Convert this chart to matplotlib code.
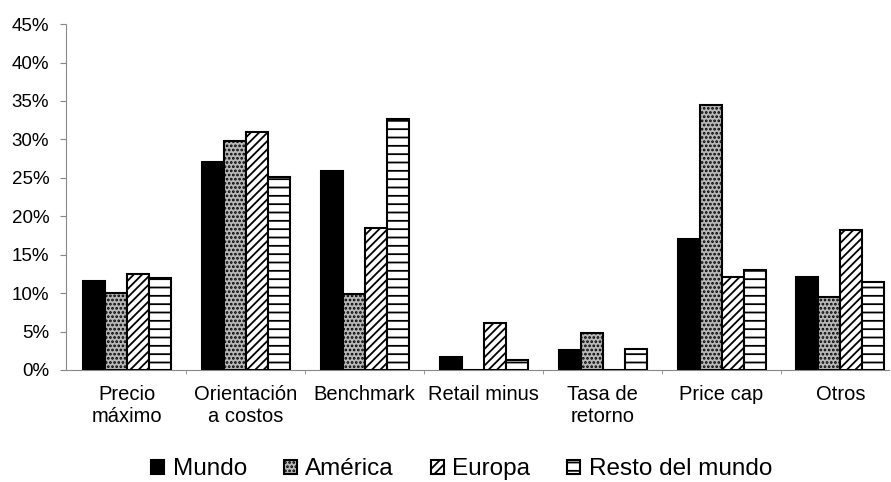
import numpy as np
import matplotlib
matplotlib.use("Agg")
import matplotlib.pyplot as plt
from matplotlib.ticker import PercentFormatter

plt.rcParams['font.family'] = ['Liberation Sans', 'DejaVu Sans']
plt.rcParams['hatch.linewidth'] = 1.3

categories = ["Precio\nmáximo", "Orientación\na costos", "Benchmark", "Retail minus",
              "Tasa de\nretorno", "Price cap", "Otros"]
series = ["Mundo", "América", "Europa", "Resto del mundo"]
mundo = [11.6, 27.0, 25.9, 1.7, 2.6, 17.0, 12.1]
america = [10.0, 29.8, 9.9, 0.0, 4.8, 34.5, 9.5]
europa = [12.5, 31.0, 18.5, 6.1, 0.0, 12.1, 18.2]
resto = [12.0, 25.1, 32.6, 1.3, 2.7, 13.0, 11.5]

values = [mundo, america, europa, resto]
styles = [
    dict(facecolor="black", hatch=None),
    dict(facecolor="#b8b8b8", hatch="...."),
    dict(facecolor="white", hatch="////"),
    dict(facecolor="white", hatch="--"),
]

fig = plt.figure(figsize=(8.91, 4.82), dpi=100)
ax = fig.add_axes([0.074, 0.2324, 0.924, 0.7176])

x = np.arange(len(categories))
w = 0.185
for i, (vals, st) in enumerate(zip(values, styles)):
    ax.bar(x + (i - 1.5) * w, vals, w, facecolor=st["facecolor"], hatch=st["hatch"],
           edgecolor="black", linewidth=1.5, label=series[i], zorder=3)

ax.set_ylim(0, 45)
ax.set_xlim(-0.513, 6.41)
ax.set_yticks(np.arange(0, 46, 5))
ax.yaxis.set_major_formatter(PercentFormatter(decimals=0))
ax.set_xticks(x)
ax.set_xticklabels(categories, linespacing=1.15)
ax.set_xticks(x[:-1] + 0.5, minor=True)
ax.tick_params(axis="x", which="major", length=0, pad=11, labelsize=14.5)
ax.tick_params(axis="x", which="minor", length=3, color="#888888")
ax.tick_params(axis="y", length=4, labelsize=13.5, color="#888888", pad=8)

for s in ["top", "right"]:
    ax.spines[s].set_visible(False)
ax.spines["left"].set_color("#888888")
ax.spines["left"].set_linestyle((0, (1, 1)))
ax.spines["bottom"].set_color("#888888")
ax.spines["bottom"].set_linestyle((0, (1, 1)))

fig.legend(loc="center", ncol=4, frameon=False, fontsize=17.5,
           bbox_to_anchor=(0.518, 0.026), handlelength=0.55, handleheight=0.55,
           handletextpad=0.35, columnspacing=1.5, borderpad=0)

fig.savefig("out.png", dpi=100)
